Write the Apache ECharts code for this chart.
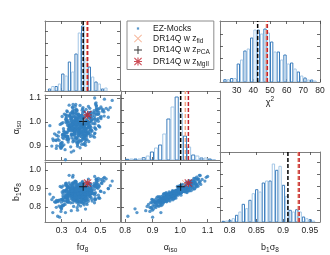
<!DOCTYPE html>
<html><head><meta charset="utf-8">
<script src="https://cdn.jsdelivr.net/npm/echarts@6/dist/echarts.min.js"></script>
<style>html,body{margin:0;padding:0;background:#fff}#c{width:330px;height:255px}</style>
</head><body><div id="c"></div>
<script>
// ---------------- data ----------------
// EZ-Mocks best-fit values (f sigma8, alpha_iso, b1 sigma8)
const mockF = [
0.391,0.356,0.423,0.376,0.415,0.341,0.392,0.410,0.356,0.408,0.379,0.441,0.364,0.401,0.354,0.430,0.391,0.423,0.380,0.444,
0.365,0.390,0.360,0.414,0.382,0.441,0.340,0.404,0.362,0.414,0.395,0.382,0.436,0.357,0.428,0.391,0.427,0.362,0.390,0.351,
0.412,0.340,0.406,0.427,0.388,0.371,0.440,0.381,0.347,0.408,0.376,0.456,0.376,0.392,0.343,0.420,0.393,0.434,0.350,0.399,
0.338,0.417,0.387,0.429,0.361,0.397,0.358,0.411,0.375,0.415,0.354,0.401,0.386,0.436,0.359,0.398,0.361,0.413,0.380,0.440,
0.366,0.394,0.351,0.435,0.371,0.414,0.359,0.407,0.372,0.437,
0.381,0.329,0.414,0.353,0.375,0.319,0.406,0.366,0.437,0.349,0.392,0.362,0.429,0.399,0.346,0.444,0.388,0.419,0.367,0.469,
0.404,0.449,0.329,0.367,0.408,0.350,0.437,0.326,0.389,0.369,0.404,0.339,0.453,0.380,0.416,0.351,0.443,0.407,0.382,0.457,
0.398,0.425,0.321,0.423,0.359,0.392,0.321,0.405,0.363,0.449,0.370,0.411,0.450,0.388,0.436,0.304,0.395,0.364,0.457,0.375,
0.421,0.316,0.414,0.357,0.416,0.351,0.444,0.364,0.425,0.382,0.426,0.329,0.446,0.353,0.477,0.333,0.406,
0.362,0.273,0.347,0.312,0.415,0.303,0.375,0.273,0.360,0.337,0.414,0.356,0.438,0.415,0.467,0.375,0.507,0.410,0.438,0.373,
0.477,0.296,0.403,0.334,0.269,0.378,0.467,0.376,0.426,0.502,0.305,0.402,0.281,0.452,0.406,0.445,0.299,0.318,0.478,
0.240,0.255,0.290,0.300,0.320,0.280,0.550,0.560,0.520,0.470,0.350,0.540,0.250,
0.307,0.455,0.368,0.447,0.333,0.466,0.327,0.419,0.442,0.364,0.387,0.357,0.421,0.384,0.360,0.437,0.379,0.385,0.375,0.398,
0.483,0.331,0.399,0.429,0.358,0.415,0.400,0.423,0.354,0.376,0.340,0.415,0.399,0.428,0.408,0.436,0.350,0.386,0.383,0.421,
0.383,0.413,0.343,0.447,0.283,0.410,0.426,0.377,0.427,0.366,0.370,0.474,0.346,0.442,0.368,0.343,0.384,0.389,0.446,0.386,
0.437,0.330,0.386,0.416,0.422,0.331,0.447,0.330,0.487,0.335,0.417,0.402,0.328,0.397,0.408,0.447,0.371,0.364,0.350,0.448,
0.393,0.402,0.322,0.375,0.480,0.354,0.469,0.320,0.394,0.483,0.311,0.434,0.375,0.446,0.305,0.433,0.367,0.491,0.340,0.438,
0.335,0.445,0.344,0.384,0.446,0.329,0.491,0.339,0.432,0.370,0.432,0.309,0.434,0.331,0.480,0.340,0.427,0.451,0.362,0.358,
0.357,0.413,0.377,0.415,0.375,0.451,0.380,0.399,0.400,0.419,0.362,0.417,0.344,0.389,0.372,0.409,0.355,0.383,0.464,0.350,
0.258,0.493,0.448,0.303,0.382,0.353,0.470,0.395,0.423,0.326,0.409,0.540,0.307,0.502,0.302,0.356,0.426,0.314,0.420,0.499,
0.295,0.327,0.437,0.474,0.440,0.346,0.322,0.519,0.275,0.479,0.448,0.330,0.390,0.324,0.395,0.376,0.462,0.388,0.415,0.370,
0.286,0.480,0.310,0.504,0.387,0.339,0.437,0.362,0.423,0.373,0.469,0.357,0.398,0.470,0.297,0.518,0.274,0.489,0.380,0.348,
0.431,0.359,0.471,0.370,0.382,0.321,0.428,0.515,0.298,0.339,0.416,0.479,0.264,0.510,0.298,0.488,0.287,0.529,0.396,0.324,
0.307,0.470,0.327,0.476,0.293,0.457,0.321,0.493,0.330,0.473,0.300,0.454,0.324,0.496,0.333,0.490,0.315,0.489,0.310,0.472];
const mockA = [
0.967,0.970,0.973,0.975,0.977,0.979,0.980,0.982,0.983,0.985,0.986,0.987,0.989,0.990,0.992,0.993,0.995,0.997,0.999,1.001,
1.003,0.968,0.971,0.974,0.976,0.978,0.981,0.984,0.988,0.991,0.994,0.996,0.998,1.000,1.002,1.004,0.969,0.972,0.975,0.979,
0.982,0.985,0.988,0.991,0.994,0.997,1.000,0.966,0.977,0.983,0.989,0.995,1.001,0.973,0.980,0.987,0.993,0.999,0.970,0.978,
0.985,0.992,0.998,0.975,0.981,0.990,0.996,0.967,0.984,0.991,1.002,0.976,0.988,0.997,0.971,0.986,0.994,0.979,1.000,0.982,
0.993,0.974,0.989,1.003,0.969,0.983,0.995,0.985,0.977,0.991,
0.937,0.941,0.945,0.948,0.951,0.954,0.957,0.959,0.961,0.963,0.965,1.005,1.007,1.009,1.011,1.013,1.016,1.019,1.022,1.025,
1.029,1.033,0.939,0.943,0.947,0.950,0.953,0.956,0.958,0.960,0.962,0.964,1.006,1.008,1.010,1.012,1.015,1.018,1.021,1.024,
1.027,1.031,0.940,0.944,0.949,0.952,0.955,0.959,0.963,1.007,1.011,1.015,1.020,1.026,1.032,0.946,0.953,0.960,1.009,1.014,
1.023,0.942,0.958,0.964,1.008,1.017,1.030,0.949,0.961,1.013,1.019,0.955,1.021,0.935,1.035,0.938,1.028,
0.880,0.890,0.897,0.905,0.910,0.915,0.919,0.923,0.927,0.930,0.933,1.037,1.040,1.043,1.047,1.051,1.055,1.060,1.065,1.073,
1.080,0.895,0.907,0.917,0.925,0.931,1.039,1.045,1.053,1.063,0.901,0.921,0.929,1.041,1.049,1.057,0.913,0.885,1.069,
0.985,0.930,0.900,0.836,0.843,0.810,1.060,1.090,1.095,1.100,0.875,1.020,0.900,
0.950,1.013,0.973,1.030,0.963,0.993,0.927,1.018,0.980,1.004,0.944,1.047,0.968,0.988,1.023,0.956,0.999,0.919,1.036,0.976,
1.010,0.938,0.996,0.954,1.042,0.983,1.021,0.961,0.991,0.932,1.027,0.971,1.006,0.947,1.055,0.978,1.015,0.966,1.032,0.924,
1.001,0.958,0.989,1.040,0.941,0.994,0.952,1.011,0.974,1.050,0.935,1.003,0.982,1.025,0.959,0.998,0.913,1.019,0.969,1.034,
0.977,1.008,0.946,1.044,0.964,0.986,1.029,0.929,1.014,0.972,1.022,0.939,0.995,0.955,1.038,0.981,1.016,0.922,1.005,0.967,
1.028,0.949,1.000,0.933,1.053,0.975,1.012,0.943,0.990,1.045,0.962,1.024,0.979,1.007,0.936,0.997,0.951,1.033,0.970,1.020,
0.926,0.987,1.026,0.957,1.002,0.940,1.041,0.984,1.017,0.965,0.992,0.948,1.009,0.931,1.031,0.973,1.023,0.960,0.999,0.918,
1.037,0.953,0.994,0.942,1.013,0.978,1.048,0.966,1.018,0.937,1.004,0.982,1.030,0.955,0.996,0.928,1.021,0.963,1.035,0.945,
0.923,1.056,0.940,1.023,0.905,1.040,0.952,1.069,0.915,1.029,0.933,1.051,0.947,1.014,0.897,1.062,0.928,1.033,0.944,1.020,
0.910,1.046,0.955,1.075,0.919,1.037,0.938,1.025,0.901,1.058,0.949,1.043,0.926,1.017,0.893,1.053,0.942,1.031,0.907,1.065,
0.958,1.048,0.931,1.022,0.916,1.070,0.950,1.035,0.903,1.027,0.937,1.060,0.921,1.015,0.890,1.042,0.945,1.054,0.912,1.019,
0.927,1.073,0.954,1.038,0.899,1.030,0.939,1.050,0.908,1.024,0.935,1.067,0.951,1.045,0.895,1.032,0.924,1.057,0.941,1.021,
0.997,0.977,1.005,0.970,0.990,0.963,1.011,0.982,1.001,0.974,0.994,0.967,1.009,0.979,0.999,0.985,0.960,1.003,0.972,0.992];
const mockB = [
0.866,0.861,0.876,0.867,0.877,0.863,0.874,0.879,0.868,0.887,0.875,0.884,0.869,0.883,0.889,0.877,0.885,0.895,0.884,0.881,
0.903,0.863,0.872,0.859,0.873,0.867,0.882,0.864,0.883,0.882,0.877,0.896,0.885,0.893,0.881,0.898,0.861,0.867,0.878,0.867,
0.877,0.874,0.892,0.874,0.889,0.885,0.894,0.853,0.874,0.883,0.875,0.873,0.893,0.878,0.870,0.880,0.876,0.894,0.864,0.881,
0.866,0.885,0.881,0.881,0.870,0.881,0.892,0.854,0.878,0.887,0.882,0.880,0.878,0.881,0.870,0.865,0.892,0.874,0.882,0.878,
0.894,0.866,0.886,0.881,0.867,0.868,0.894,0.875,0.876,0.878,
0.837,0.851,0.838,0.852,0.861,0.848,0.857,0.845,0.864,0.868,0.860,0.882,0.898,0.907,0.890,0.900,0.895,0.912,0.894,0.913,
0.910,0.905,0.853,0.842,0.842,0.859,0.840,0.858,0.864,0.849,0.861,0.871,0.889,0.893,0.902,0.885,0.909,0.897,0.906,0.898,
0.922,0.910,0.848,0.836,0.854,0.845,0.865,0.857,0.857,0.902,0.886,0.906,0.899,0.910,0.921,0.842,0.852,0.870,0.886,0.902,
0.911,0.832,0.864,0.859,0.904,0.896,0.912,0.842,0.863,0.909,0.900,0.860,0.894,0.841,0.909,0.850,0.909,
0.803,0.798,0.823,0.813,0.821,0.809,0.836,0.828,0.839,0.826,0.841,0.910,0.929,0.909,0.928,0.935,0.927,0.924,0.951,0.938,
0.949,0.798,0.825,0.828,0.825,0.846,0.917,0.908,0.934,0.949,0.805,0.833,0.829,0.917,0.934,0.923,0.826,0.814,0.936,
0.870,0.770,0.745,0.790,0.770,0.750,0.915,0.940,0.960,0.965,0.780,0.900,0.840,
0.859,0.886,0.871,0.905,0.875,0.874,0.833,0.913,0.869,0.898,0.832,0.929,0.874,0.877,0.898,0.868,0.877,0.829,0.921,0.854,
0.905,0.839,0.897,0.847,0.924,0.862,0.905,0.873,0.872,0.843,0.904,0.882,0.892,0.836,0.938,0.875,0.891,0.874,0.906,0.833,
0.874,0.867,0.876,0.925,0.836,0.897,0.852,0.886,0.874,0.935,0.836,0.877,0.887,0.908,0.850,0.902,0.821,0.907,0.855,0.920,
0.865,0.905,0.835,0.924,0.869,0.873,0.924,0.826,0.901,0.866,0.915,0.830,0.892,0.850,0.930,0.866,0.900,0.835,0.877,0.872,
0.921,0.844,0.891,0.827,0.929,0.885,0.894,0.853,0.871,0.926,0.853,0.917,0.858,0.900,0.842,0.877,0.864,0.911,0.873,0.891,
0.838,0.871,0.918,0.852,0.905,0.830,0.919,0.885,0.895,0.865,0.893,0.834,0.899,0.835,0.920,0.858,0.918,0.853,0.894,0.824,
0.930,0.846,0.885,0.855,0.887,0.877,0.922,0.876,0.893,0.848,0.887,0.887,0.903,0.856,0.894,0.820,0.907,0.871,0.909,0.847,
0.852,0.912,0.871,0.881,0.832,0.888,0.872,0.928,0.850,0.888,0.856,0.899,0.872,0.884,0.841,0.915,0.846,0.887,0.871,0.886,
0.840,0.896,0.868,0.922,0.856,0.900,0.863,0.878,0.831,0.908,0.877,0.908,0.856,0.882,0.824,0.898,0.871,0.891,0.831,0.912,
0.835,0.942,0.808,0.930,0.810,0.971,0.831,0.927,0.789,0.931,0.823,0.961,0.805,0.915,0.776,0.940,0.835,0.955,0.797,0.920,
0.814,0.970,0.840,0.940,0.783,0.927,0.821,0.955,0.802,0.930,0.812,0.952,0.828,0.941,0.793,0.942,0.805,0.952,0.831,0.929,
0.914,0.845,0.916,0.844,0.911,0.832,0.917,0.851,0.915,0.839,0.906,0.843,0.922,0.847,0.906,0.848,0.881,0.864,0.888,0.863];

// DR14Q measurements: z_fid, z_PCA, z_MgII
const drNames = ['DR14Q w z_fid', 'DR14Q w z_PCA', 'DR14Q w z_MgII'];
const drF    = [0.429, 0.411, 0.434];
const drA    = [1.019, 1.002, 1.030];
const drB    = [0.928, 0.909, 0.930];
const drChi2 = [47.8, 42.6, 48.4];

// histograms (relative heights), two side-by-side sets per bin
const fHistStart = 0.23,  fHistWidth = 0.034;
const fHistDark  = [2, 4.5, 17, 29, 37, 65, 24, 9, 2];
const fHistLight = [4.5, 7, 15, 19, 58, 32, 14, 7, 3];
const aHistStart = 0.80,  aHistWidth = 0.03;
const aHistDark  = [0.7, 1, 2.3, 8, 15, 41, 63, 24, 5, 2, 1];
const aHistLight = [1, 1, 4, 12, 26, 53, 47, 13, 4, 2, 0.5];
const bHistStart = 0.785, bHistWidth = 0.0125;
const bHistDark  = [0.7, 1.7, 6.7, 17.7, 21.7, 32.3, 39, 41, 51.7, 36.7, 11.7, 12.3, 5, 2.3];
const bHistLight = [1, 3.3, 10, 13.3, 28.3, 30, 41, 58, 55.7, 25.7, 10, 10, 3.3, 1];
const cHistStart = 22,    cHistWidth = 4;
const cHistDark  = [2.3, 3.5, 18, 31, 44, 52, 53, 40, 30, 27, 19, 10, 4, 2];
const cHistLight = [2.3, 3.5, 22, 33, 52, 48, 49, 30, 22, 18, 13, 6, 2, 1];

// tick labels
const fTicks = [0.3, 0.4, 0.5];
const aTicks = [0.8, 0.9, 1.0, 1.1];
const bTicks = [0.8, 0.85, 0.9, 0.95];
const bYTicks = [0.8, 0.9, 1.0];
const aYTicks = [0.9, 1.0, 1.1];
const cTicks = [30, 40, 50, 60, 70, 80];

// ---------------- styling ----------------
const FONT = '"Liberation Sans", Arial, sans-serif';
const C = {mock:'#2f7ebf', dark:'#3a7cbc', light:'#a4c7e6', frame:'#7f7f7f',
           dr:['#f4a582', '#000000', '#c0232f']};
const PLUS = 'path://M4.4,0H5.6V4.4H10V5.6H5.6V10H4.4V5.6H0V4.4H4.4Z';
const CROSS = 'path://M0.8,0L5,4.2L9.2,0L10,0.8L5.8,5L10,9.2L9.2,10L5,5.8L0.8,10L0,9.2L4.2,5L0,0.8Z';
const STAR = 'path://M4.3,0H5.7V4.3H10V5.7H5.7V10H4.3V5.7H0V4.3H4.3Z M1,0L5,4L9,0L10,1L6,5L10,9L9,10L5,6L1,10L0,9L4,5L0,1Z';
const drSym = [CROSS, PLUS, STAR];
const drSize = [7, 8, 8];

const RICH = {
  t: {fontFamily: FONT, fontSize: 9, color: '#222'},
  s: {fontFamily: FONT, fontSize: 6.5, color: '#222', padding: [6, 0, 0, 0]},
  u: {fontFamily: FONT, fontSize: 6.5, color: '#222', padding: [0, 0, 6, 0]}
};
const NAME_F = '{t|fσ}{s|8}';
const NAME_A = '{t|α}{s|iso}';
const NAME_B = '{t|b}{s|1}{t|σ}{s|8}';
const NAME_C = '{t|χ}{u|2}';
const fmt1 = v => v.toFixed(1);
const fmt2 = v => String(Number(v.toFixed(2)));

const panels = [
  {left:45,  top:21,  width:75, height:70, x:[0.215,0.6],   xt:fTicks, y:[0,70], yt:[12,24,36,48,60]},
  {left:45,  top:95,  width:75, height:65, x:[0.215,0.6],   xt:fTicks, y:[0.842,1.1125], yt:aYTicks, yl:aYTicks, yName:NAME_A},
  {left:45,  top:162, width:75, height:60, x:[0.215,0.6],   xt:fTicks, xl:fTicks, xf:fmt1, xName:NAME_F, y:[0.719,1.043], yt:bYTicks, yl:bYTicks, yName:NAME_B},
  {left:121, top:91,  width:99, height:69, x:[0.785,1.145], xt:aTicks, y:[0,69], yt:[15,27,38,50,62]},
  {left:121, top:162, width:99, height:60, x:[0.785,1.145], xt:aTicks, xl:aTicks, xf:fmt1, xName:NAME_A, y:[0.719,1.043], yt:bYTicks},
  {left:220, top:152, width:100, height:70, x:[0.782,0.969], xt:bTicks, xl:bTicks, xf:fmt2, xName:NAME_B, y:[0,70], yt:[12,24,36,48,60]},
  {left:220, top:21,  width:100, height:61, x:[20,80],      xt:cTicks, xl:cTicks, xf:v=>String(v), xName:NAME_C, xNameGap:14, y:[0,61], yt:[12,24,36,48]}
];

const option = {
  animation: false, backgroundColor: '#fff', textStyle: {fontFamily: FONT},
  grid: [], xAxis: [], yAxis: [], series: []
};

function axisX(p, g, pos, main) {
  const lab = main && p.xl;
  return {type:'value', gridIndex:g, position:pos, min:p.x[0], max:p.x[1],
    axisLine:{show:true, onZero:false, lineStyle:{color:C.frame, width:1}},
    axisTick:{show:true, inside:true, length:3, customValues:p.xt, lineStyle:{color:'#444', width:0.8}},
    axisLabel:{show:!!lab, customValues:p.xl || p.xt, formatter:p.xf, fontSize:8.5, color:'#222', margin:4, fontFamily:FONT},
    splitLine:{show:false},
    name: main && p.xName ? p.xName : '', nameLocation:'middle', nameGap: p.xNameGap || 19,
    nameTextStyle:{rich: RICH}};
}
function axisY(p, g, pos, main) {
  const lab = main && p.yl;
  return {type:'value', gridIndex:g, position:pos, min:p.y[0], max:p.y[1],
    axisLine:{show:true, onZero:false, lineStyle:{color:C.frame, width:1}},
    axisTick:{show:true, inside:true, length:3, customValues:p.yt, lineStyle:{color:'#444', width:0.8}},
    axisLabel:{show:!!lab, customValues:p.yl || p.yt, formatter:fmt1, fontSize:8.5, color:'#222', margin:4, fontFamily:FONT},
    splitLine:{show:false},
    name: main && p.yName ? p.yName : '', nameLocation:'middle', nameGap:22,
    nameTextStyle:{rich: RICH}};
}
panels.forEach((p, g) => {
  option.grid.push({left:p.left, top:p.top, width:p.width, height:p.height, show:false, containLabel:false});
  option.xAxis.push(axisX(p, g, 'bottom', true), axisX(p, g, 'top', false));
  option.yAxis.push(axisY(p, g, 'left', true), axisY(p, g, 'right', false));
});

function histSeries(g, start, width, counts, color, half) {
  const data = counts.map((c, i) => [start + i * width + half * width / 2, width / 2, c]);
  return {type:'custom', xAxisIndex:2*g, yAxisIndex:2*g, silent:true, z:2, clip:true,
    data: data, encode:{x:0, y:2},
    renderItem: (params, api) => {
      const x0 = api.value(0), w = api.value(1), h = api.value(2);
      const p0 = api.coord([x0, h]);
      const p1 = api.coord([x0 + w, 0]);
      return {type:'rect', shape:{x:p0[0] + 0.5, y:p0[1], width:Math.max(p1[0] - p0[0] - 1, 0.5), height:p1[1] - p0[1]},
        style:{fill:'rgba(255,255,255,0)', stroke:color, lineWidth:1}};
    }};
}
function vline(g, x, ymax, color, name) {
  return {type:'line', name:name, xAxisIndex:2*g, yAxisIndex:2*g, silent:true, z:3, symbol:'none',
    data:[[x, 0], [x, ymax]], lineStyle:{color:color, width:1.5, type:[4, 2]}};
}
function mockScatter(g, xs, ys) {
  return {type:'scatter', name:'EZ-Mocks', xAxisIndex:2*g, yAxisIndex:2*g, silent:true, z:4,
    symbol:'circle', symbolSize:3.3, itemStyle:{color:C.mock},
    data: xs.map((v, i) => [v, ys[i]])};
}
function drScatter(g, k, x, y) {
  return {type:'scatter', name:drNames[k], xAxisIndex:2*g, yAxisIndex:2*g, silent:true, z:5 + (k === 1 ? 2 : k === 2 ? 1 : 0),
    symbol:drSym[k], symbolSize:drSize[k], itemStyle:{color:C.dr[k]}, data:[[x, y]]};
}

option.series.push(mockScatter(1, mockF, mockA), mockScatter(2, mockF, mockB), mockScatter(4, mockA, mockB));
[0, 1, 2].forEach(k => {
  option.series.push(drScatter(1, k, drF[k], drA[k]), drScatter(2, k, drF[k], drB[k]), drScatter(4, k, drA[k], drB[k]));
});
option.series.push(
  histSeries(0, fHistStart, fHistWidth, fHistDark, C.dark, 0), histSeries(0, fHistStart, fHistWidth, fHistLight, C.light, 1),
  histSeries(3, aHistStart, aHistWidth, aHistDark, C.dark, 0), histSeries(3, aHistStart, aHistWidth, aHistLight, C.light, 1),
  histSeries(5, bHistStart, bHistWidth, bHistDark, C.dark, 0), histSeries(5, bHistStart, bHistWidth, bHistLight, C.light, 1),
  histSeries(6, cHistStart, cHistWidth, cHistDark, C.dark, 0), histSeries(6, cHistStart, cHistWidth, cHistLight, C.light, 1)
);
[0, 2, 1].forEach(k => {
  option.series.push(
    vline(0, drF[k], 70, C.dr[k], 'vf' + k),
    vline(3, drA[k], 69, C.dr[k], 'va' + k),
    vline(5, drB[k], 70, C.dr[k], 'vb' + k),
    vline(6, drChi2[k], 61, C.dr[k], 'vc' + k));
});

const legendText = {
  'EZ-Mocks': '{t|EZ-Mocks}',
  'DR14Q w z_fid': '{t|DR14Q w z}{s|fid}',
  'DR14Q w z_PCA': '{t|DR14Q w z}{s|PCA}',
  'DR14Q w z_MgII': '{t|DR14Q w z}{s|MgII}'
};
option.legend = {
  left:127, top:21, orient:'vertical', padding:[3, 4, 2, 7], itemGap:1, itemWidth:20, itemHeight:8,
  borderColor:'#8c8c8c', borderWidth:1, borderRadius:0, backgroundColor:'#fff', selectedMode:false,
  data:[{name:'EZ-Mocks', icon:'path://M0,0M10,10M3.6,3.6h2.8v2.8h-2.8z'}, drNames[0], drNames[1], drNames[2]],
  formatter: n => legendText[n],
  textStyle:{rich:{
    t:{fontFamily:FONT, fontSize:8.5, color:'#222', lineHeight:11},
    s:{fontFamily:FONT, fontSize:6.5, color:'#222', padding:[5, 0, 0, 0]}}}
};

const chart = echarts.init(document.getElementById('c'), null, {renderer:'canvas'});
chart.setOption(option);
</script></body></html>
